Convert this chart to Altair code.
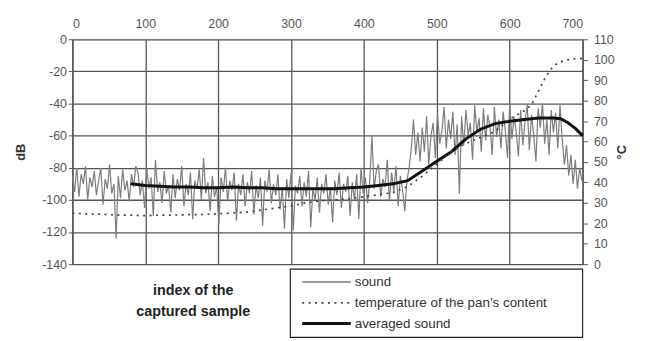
import altair as alt
import pandas as pd

# sound samples, every 3rd index from 0 to 699 (dB)
sound_step = 3
sound_db = [
    -85, -95, -80, -98, -84, -90, -79, -100, -86, -92,
    -82, -97, -88, -80, -103, -87, -93, -78, -96, -90,
    -124, -85, -99, -81, -94, -88, -101, -84, -92, -79,
    -83, -97, -88, -105, -80, -93, -86, -110, -75, -95,
    -89, -102, -82, -96, -91, -108, -84, -99, -87, -94,
    -79, -104, -90, -97, -83, -112, -88, -93, -81, -100,
    -74, -96, -89, -107, -85, -98, -92, -115, -86, -95,
    -80, -101, -88, -94, -83, -113, -90, -97, -84, -104,
    -89, -96, -82, -109, -91, -99, -86, -116, -88, -95,
    -81, -102, -90, -97, -84, -106, -92, -118, -87, -99,
    -83, -119, -91, -96, -85, -104, -89, -98, -82, -117,
    -93, -100, -86, -108, -90, -96, -84, -103, -92, -114,
    -88, -97, -83, -105, -90, -95, -85, -110, -89, -100,
    -84, -112, -80, -96, -86, -102, -88, -60, -93, -82,
    -78, -98, -87, -92, -75, -101, -83, -95, -79, -104,
    -85, -94, -107, -88, -80, -68, -50, -72, -58, -76,
    -55, -70, -48, -78, -60, -52, -74, -46, -65, -57,
    -42, -68, -50, -62, -45, -72, -53, -96, -48, -66,
    -44, -60, -52, -75, -41, -58, -49, -70, -43, -63,
    -47, -55, -72, -42, -61, -50, -68, -45, -57, -74,
    -40, -62, -48, -58, -73, -44, -66, -51, -41, -69,
    -47, -60, -76, -43, -55, -40, -65, -50, -72, -44,
    -58, -46, -68, -41, -62, -78, -66, -85, -72, -90,
    -75, -93, -80, -88,
]
sound_idx = [i * sound_step for i in range(len(sound_db))]

# averaged sound (dB)
avg_idx = [80, 100, 120, 140, 160, 180, 200, 220, 240, 260, 280, 300, 320, 340,
           360, 380, 400, 420, 440, 460, 480, 500, 520, 540, 560, 580, 600, 620,
           640, 660, 670, 680, 690, 700]
avg_db = [-90, -91, -91.5, -92, -92, -92.5, -92.5, -92, -92.5, -92.5, -93, -93,
          -93, -93, -93, -92.5, -92, -91, -90, -88, -82, -76, -70, -62, -56,
          -52.5, -51, -50, -49, -49, -49.5, -52, -55.5, -60]

# temperature of the pan's content (°C)
temp_idx = [0, 20, 40, 60, 80, 100, 120, 140, 160, 180, 200, 220, 240, 260, 280,
            300, 320, 340, 360, 380, 400, 420, 440, 460, 480, 500, 520, 540, 560,
            580, 600, 610, 620, 630, 640, 650, 660, 670, 680, 690, 700]
temp_c = [25, 24.5, 24.5, 24, 24, 23.7, 24, 24, 24.2, 24.3, 24.7, 25, 25.5, 26.5,
          27.5, 28.5, 30, 31, 31.5, 32, 33, 34, 35, 38, 43, 49, 55, 59, 62, 65,
          71, 73, 75, 78, 85, 92, 97, 99, 100, 100.5, 100.5]

x_ticks = [0, 100, 200, 300, 400, 500, 600, 700]
db_ticks = [-140, -120, -100, -80, -60, -40, -20, 0]
c_ticks = [0, 10, 20, 30, 40, 50, 60, 70, 80, 90, 100, 110]

FONT = "Liberation Sans"
GRID = "#555555"
LBL = "#555555"
SOUND = "#7d7d7d"

sound_df = pd.DataFrame({"idx": sound_idx, "db": sound_db})
avg_df = pd.DataFrame({"idx": avg_idx, "db": avg_db})
temp_df = pd.DataFrame({"idx": temp_idx, "temp": temp_c})

x_enc = alt.X(
    "idx:Q",
    scale=alt.Scale(domain=[0, 700], nice=False),
    axis=alt.Axis(orient="top", values=x_ticks, title=None, grid=True,
                  gridColor=GRID, gridWidth=1.3, ticks=False, domain=False,
                  labelPadding=9, labelColor=LBL, labelFontSize=12.5,
                  labelFont=FONT),
)

y_left = alt.Y(
    "db:Q",
    scale=alt.Scale(domain=[-140, 0], nice=False),
    axis=alt.Axis(values=db_ticks, title="dB", grid=True, gridColor=GRID,
                  gridWidth=1.3, tickSize=4, tickColor=GRID, domainColor=GRID,
                  domainWidth=1.3, labelPadding=2, labelColor=LBL,
                  labelExpr="toString(datum.value)",
                  labelFontSize=12.5, labelFont=FONT, titleFont=FONT,
                  titleFontSize=13, titleFontWeight="bold", titleColor="#333",
                  titlePadding=14),
)

sound = alt.Chart(sound_df).mark_line(color=SOUND, strokeWidth=1.2).encode(
    x=x_enc, y=y_left)
avg = alt.Chart(avg_df).mark_line(color="#111111", strokeWidth=3).encode(
    x=x_enc, y=y_left)
left = alt.layer(sound, avg)

temp = alt.Chart(temp_df).mark_line(
    color="#444444", strokeWidth=1.7, strokeDash=[2, 4.5]
).encode(
    x=x_enc,
    y=alt.Y("temp:Q", scale=alt.Scale(domain=[0, 110], nice=False),
            axis=alt.Axis(orient="right", values=c_ticks, title="°C",
                          grid=False, tickSize=5, tickColor=GRID,
                          domainColor=GRID, domainWidth=1.3, labelPadding=6,
                          labelColor=LBL, labelFontSize=12.5, labelFont=FONT,
                          titleFont=FONT, titleFontSize=13, titleAngle=270,
                          titleFontWeight="bold", titleColor="#333",
                          titlePadding=14)),
)

one = alt.Data(values=[{"k": 0}])

box = alt.Chart(one).mark_rect(fill="white", stroke="#222", strokeWidth=1.2).encode(
    x=alt.value(220), x2=alt.value(515), y=alt.value(232), y2=alt.value(301))

legend_items = [
    ("sound", 245, dict(color=SOUND, strokeWidth=1.3)),
    ("temperature of the pan’s content", 266,
     dict(color="#444444", strokeWidth=1.7, strokeDash=[2, 4.5])),
    ("averaged sound", 287, dict(color="#111111", strokeWidth=3)),
]
leg_layers = [box]
for name, yy, style in legend_items:
    d = alt.Data(values=[{"label": name}])
    leg_layers.append(alt.Chart(d).mark_rule(**style).encode(
        x=alt.value(232), x2=alt.value(281), y=alt.value(yy)))
    leg_layers.append(alt.Chart(d).mark_text(
        align="left", baseline="middle", font=FONT, fontSize=13.5,
        color="#333333").encode(
        x=alt.value(285), y=alt.value(yy), text="label:N"))

caption_lines = ["index of the", "captured sample"]
for line, yy in zip(caption_lines, [254, 275]):
    leg_layers.append(alt.Chart(alt.Data(values=[{"t": line}])).mark_text(
        align="center", baseline="middle", font=FONT, fontSize=14.5,
        fontWeight="bold", color="#222222").encode(
        x=alt.value(122), y=alt.value(yy), text="t:N"))

chart = alt.layer(left, temp, *leg_layers).resolve_scale(
    y="independent"
).properties(
    width=515, height=227,
    padding={"left": 65, "top": 30, "right": 62, "bottom": 76},
    autosize="none",
).configure_view(stroke=None).configure(background="white")

chart.save("out.html", embed_options={"renderer": "svg", "actions": False})
